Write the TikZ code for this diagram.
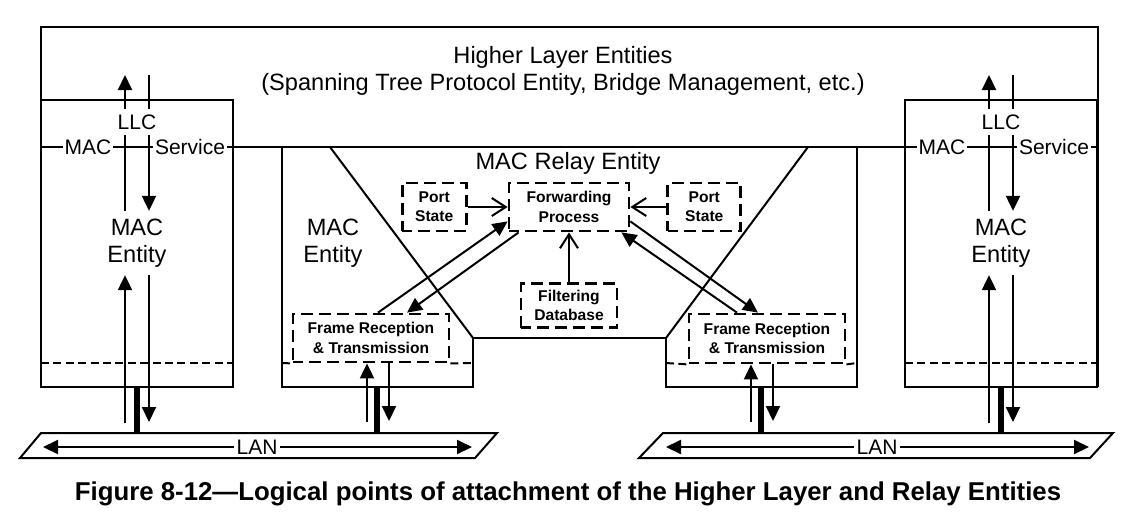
\documentclass[tikz,border=0pt]{standalone}
\usepackage{fontspec}
\setmainfont{Liberation Sans}
\usetikzlibrary{arrows.meta}
\usetikzlibrary{positioning}

\begin{document}
\begin{tikzpicture}[
    x=0.5pt, y=-0.5pt,
    line width=1pt,
    tri/.style={-{Triangle[length=7.5pt, width=7pt]}},
    barb/.style={-{Straight Barb[length=7pt, width=9pt]}},
    dashline/.style={dash pattern=on 4pt off 2.2pt},
    dbox/.style={
        draw,
        line width=1.4pt,
        dash pattern=on 6pt off 3pt,
        dash phase=1pt,
        align=center,
        inner sep=0pt,
        font=\fontsize{7.8}{9.6}\selectfont\bfseries
    },
    biglabel/.style={font=\fontsize{11.8}{13.8}\selectfont, align=center},
    smalllabel/.style={font=\fontsize{10.5}{12}\selectfont, fill=white, inner sep=1pt},
    stub/.style={line width=2.6pt}
]

\useasboundingbox (0,0) rectangle (1137,527);

% higher layer frame and MAC service line
\draw (41,387) -- (41,27) -- (1098,27) -- (1098,387);
\draw (41,147) -- (1098,147);
\node[biglabel] (hle) at (563,71) {Higher Layer Entities\\(Spanning Tree Protocol Entity, Bridge Management, etc.)};

% bridge outline
\draw (282,147) -- (282,387) -- (473,387) -- (473,338) -- (666,338) -- (666,387) -- (857,387) -- (857,147);
\draw (330,147) -- (473,338);
\draw (808,147) -- (666,338);
\node[biglabel] (relay) at (568,163) {MAC Relay Entity};
\node[biglabel] (bent) at (333,243) {MAC\\Entity};

% relay boxes
\node[dbox, minimum width=60pt, minimum height=24pt] (fwd) at (569,207) {Forwarding\\Process};
\node[dbox, minimum width=32pt, minimum height=24pt, left=20pt of fwd] (portL) {Port\\State};
\node[dbox, minimum width=36.5pt, minimum height=24pt, right=18pt of fwd] (portR) {Port\\State};
\node[dbox, minimum width=48pt, minimum height=22pt, below=25pt of fwd] (filt) {Filtering\\Database};
\node[dbox, minimum width=78pt, minimum height=24pt] (frtL) at (371,338) {Frame Reception\\\& Transmission};
\node[dbox, minimum width=78pt, minimum height=24.5pt] (frtR) at (767,338.5) {Frame Reception\\\& Transmission};

\draw[dashline] (282,363) -- (frtL.south west);
\draw[dashline] (frtL.south east) -- (473,363);
\draw[dashline] (666,363) -- (frtR.south west);
\draw[dashline] (frtR.south east) -- (857,363);

\draw[barb] (portL) -- (fwd);
\draw[barb] (portR) -- (fwd);
\draw[barb] (filt) -- (fwd);

\draw[tri] ([xshift=3.5pt]frtL.north) -- ([yshift=5.5pt]fwd.south west);
\draw[tri] ([xshift=5.5pt]fwd.south west) -- ([xshift=18pt]frtL.north);
\draw[tri] ([yshift=5.5pt]fwd.south east) -- ([xshift=-4.5pt]frtR.north);
\draw[tri] ([xshift=-15pt]frtR.north) -- ([xshift=-4.5pt]fwd.south east);

% bridge ports
\foreach \sx/\nm in {377/L, 761/R}{
    \coordinate (pin\nm) at (\sx-10,422);
    \coordinate (pout\nm) at (\sx+12,421);
    \draw[tri] (pin\nm) -- (pin\nm |- frt\nm.south);
    \draw[tri] (pout\nm |- frt\nm.south) -- (pout\nm);
    \draw[stub] (\sx,387) -- (\sx,433);
}

% end stations
\foreach \cx/\mx/\nm in {137/88/L, 1001/942/R}{
    \draw (\cx-96,100) rectangle (\cx+96,387);
    \draw[dashline] (\cx-96,363) -- (\cx+96,363);
    \node[smalllabel, inner sep=2.5pt] (llc\nm) at (\cx,122) {LLC};
    \node[smalllabel] (mac\nm) at (\mx,147) {MAC};
    \node[smalllabel, anchor=west] (svc\nm) at (\cx+15,147) {Service};
    \node[biglabel] (ent\nm) at (\cx,243) {MAC\\Entity};
    \coordinate (a\nm) at (\cx-12,423);
    \coordinate (b\nm) at (\cx+12,422);
    \coordinate (t\nm) at (\cx,75);
    \draw[tri] (a\nm |- llc\nm.north) -- (a\nm |- t\nm);
    \draw (b\nm |- t\nm) -- (b\nm |- llc\nm.north);
    \draw (a\nm |- llc\nm.south) -- (a\nm |- ent\nm.north);
    \draw[tri] (b\nm |- llc\nm.south) -- (b\nm |- ent\nm.north);
    \draw[tri] (a\nm) -- (a\nm |- ent\nm.south);
    \draw[tri] (b\nm |- ent\nm.south) -- (b\nm);
    \draw[stub] (\cx,387) -- (\cx,433);
}

% LANs
\draw (20,458) -- (41,433) -- (497,433) -- (475,458) -- cycle;
\node[smalllabel] (lan1) at (257,447) {LAN};
\draw[tri] (lan1) -- (43,447);
\draw[tri] (lan1) -- (472,447);

\draw (639,458) -- (663,433) -- (1113,433) -- (1090,458) -- cycle;
\node[smalllabel] (lan2) at (877,447) {LAN};
\draw[tri] (lan2) -- (666,447);
\draw[tri] (lan2) -- (1089,447);

% caption
\node[font=\fontsize{12.9}{15}\selectfont\bfseries] (cap) at (568,494) {Figure 8-12—Logical points of attachment of the Higher Layer and Relay Entities};

\end{tikzpicture}
\end{document}
